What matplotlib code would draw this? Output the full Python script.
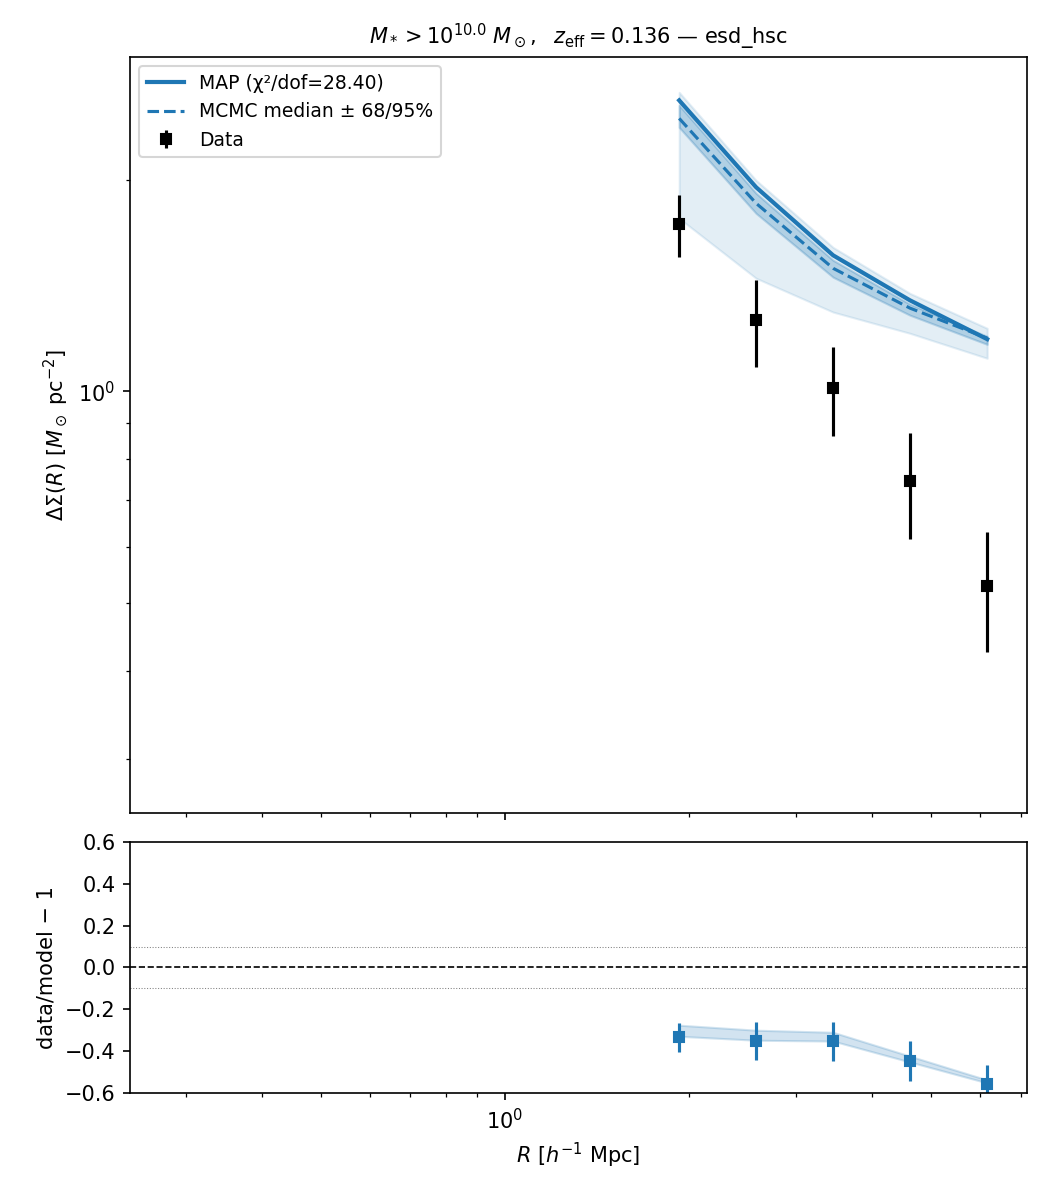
import numpy as np
import matplotlib
matplotlib.use("Agg")
from matplotlib import pyplot as plt

# radial bins [h^-1 Mpc]
R = [1.93, 2.58, 3.45, 4.61, 6.17]

# measured ESD and errors
esd = [1.728, 1.262, 1.010, 0.745, 0.528]
esd_err = [0.177, 0.178, 0.146, 0.128, 0.103]

# model curves
model_map = [2.594, 1.951, 1.561, 1.347, 1.186]
mcmc_med = [2.445, 1.851, 1.496, 1.313, 1.190]
mcmc_lo68 = [2.374, 1.791, 1.453, 1.283, 1.166]
mcmc_hi68 = [2.552, 1.913, 1.536, 1.330, 1.197]
mcmc_lo95 = [1.762, 1.448, 1.296, 1.209, 1.114]
mcmc_hi95 = [2.663, 1.996, 1.602, 1.378, 1.229]

# ratio band (data/model - 1)
ratio_lo = [-0.329, -0.348, -0.352, -0.452, -0.552]
ratio_hi = [-0.276, -0.300, -0.310, -0.424, -0.538]

chi2_dof = 28.40

R = np.array(R)
esd = np.array(esd)
esd_err = np.array(esd_err)
model_map = np.array(model_map)

fig = plt.figure(figsize=(7, 8), dpi=150)
ax = fig.add_axes([0.1238, 0.3225, 0.8543, 0.63])
axr = fig.add_axes([0.1238, 0.0892, 0.8543, 0.2092], sharex=ax)

ax.fill_between(R, mcmc_lo95, mcmc_hi95, color="C0", alpha=0.12)
ax.fill_between(R, mcmc_lo68, mcmc_hi68, color="C0", alpha=0.25)
ax.plot(R, model_map, color="C0", lw=2, label="MAP (χ²/dof=%.2f)" % chi2_dof)
ax.plot(R, mcmc_med, color="C0", lw=1.5, ls="--", label="MCMC median ± 68/95%")
ax.errorbar(R, esd, yerr=esd_err, fmt="s", color="k", ms=4.5, label="Data")

ax.set_xscale("log")
ax.set_yscale("log")
ax.set_xlim(0.243, 7.17)
ax.set_ylim(0.251, 2.99)
ax.set_ylabel(r"$\Delta\Sigma(R)\ [M_\odot\ {\rm pc}^{-2}]$")
ax.set_title(r"$M_* > 10^{10.0}\ M_\odot,\ \ z_{\rm eff} = 0.136$ — esd_hsc", fontsize=10)
ax.tick_params(labelbottom=False)
ax.legend(loc="upper left", fontsize=9)

ratio = esd / model_map - 1
ratio_err = esd_err / model_map
axr.fill_between(R, ratio_lo, ratio_hi, color="C0", alpha=0.2)
axr.errorbar(R, ratio, yerr=ratio_err, fmt="s", color="C0", ms=4.5)
axr.axhline(0, color="k", ls="--", lw=0.8)
axr.axhline(0.1, color="gray", ls=":", lw=0.5)
axr.axhline(-0.1, color="gray", ls=":", lw=0.5)
axr.set_ylim(-0.6, 0.6)
axr.set_xlabel(r"$R\ [h^{-1}\ {\rm Mpc}]$")
axr.set_ylabel("data/model − 1")

fig.savefig("out.png", dpi=150)
